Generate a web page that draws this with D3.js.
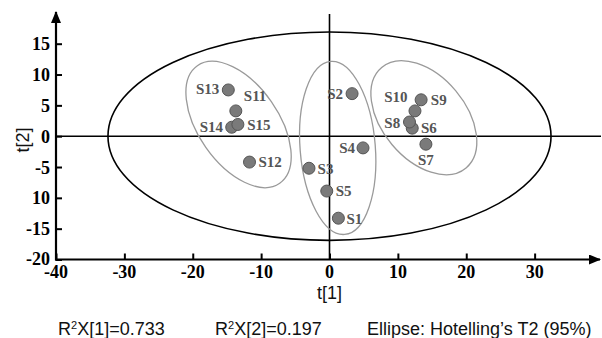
<!DOCTYPE html>
<html>
<head>
<meta charset="utf-8">
<script src="https://cdn.jsdelivr.net/npm/d3@7"></script>
<style>
  body { margin: 0; background: #fff; }
  svg { display: block; }
  .lbl { font-family: "Liberation Serif", "Times New Roman", serif; font-weight: bold; font-size: 15px; fill: #555; }
  .ticklbl { font-family: "Liberation Serif", "Times New Roman", serif; font-weight: bold; font-size: 18px; fill: #000; }
  .sans { font-family: "Liberation Sans", Arial, sans-serif; fill: #111; }
</style>
</head>
<body>
<div id="chart"></div>
<script>
// sample scores t[1], t[2]
const samples = ['S1', 'S2', 'S3', 'S4', 'S5', 'S6', 'S7', 'S8', 'S9', 'S10', 'S11', 'S12', 'S13', 'S14', 'S15'];
const t1 = [1.3, 3.3, -3.0, 4.9, -0.4, 12.1, 14.1, 11.7, 13.4, 12.5, -13.7, -11.7, -14.8, -14.3, -13.4];
const t2 = [-13.3, 6.9, -5.2, -1.9, -8.9, 1.3, -1.3, 2.3, 5.9, 4.1, 4.1, -4.2, 7.5, 1.45, 1.9];

// axis ticks (the -10 label reads "10" in the original)
const xTicks = [-40, -30, -20, -10, 0, 10, 20, 30];
const yTicks = [15, 10, 5, 0, -5, -10, -15, -20];
const yTickLabels = ['15', '10', '5', '0', '-5', '10', '-15', '-20'];

// Hotelling T2 ellipse (95%)
const hotellingRx = 32.4, hotellingRy = 16.9;

// group ellipses: centre (t1, t2), semi-axes in t[1] units, tilt in degrees
const groupCx = [-13.3, 1.2, 13.8];
const groupCy = [1.9, -1.9, 3.0];
const groupA = [10.5, 12.7, 9.6];
const groupB = [5.85, 5.5, 6.1];
const groupAngle = [55, 85.4, 50];

// label placement: dx, dy, anchor
const labelPos = {
    S1: [8, 5.7, 'start'], S2: [-9, 5.7, 'end'], S3: [8.6, 5.7, 'start'],
    S4: [-8, 4.6, 'end'], S5: [9, 5.3, 'start'], S6: [8.7, 5, 'start'],
    S7: [0, 21, 'middle'], S8: [-9.3, 5.6, 'end'], S9: [9.7, 5.3, 'start'],
    S10: [-7.4, -9, 'end'], S11: [8, -9.6, 'start'], S12: [9, 5, 'start'],
    S13: [-9, 4.5, 'end'], S14: [-8.6, 4.7, 'end'], S15: [9.4, 5.4, 'start']
};

const W = 602, H = 338;
const svg = d3.select('#chart').append('svg')
    .attr('width', W).attr('height', H);

const x = d3.scaleLinear().domain([-40, 0]).range([56, 329.5]);
const y = d3.scaleLinear().domain([-20, 15]).range([259.5, 43.7]);

const defs = svg.append('defs');
defs.append('marker')
    .attr('id', 'arrow')
    .attr('viewBox', '0 0 12 10')
    .attr('refX', 11).attr('refY', 5)
    .attr('markerWidth', 12).attr('markerHeight', 10)
    .attr('markerUnits', 'userSpaceOnUse')
    .attr('orient', 'auto')
    .append('path')
    .attr('d', 'M0,0 L12,5 L0,10 Z')
    .attr('fill', '#000');

// zero lines
svg.append('line')
    .attr('x1', x(-40)).attr('x2', 601)
    .attr('y1', y(0)).attr('y2', y(0))
    .attr('stroke', '#000').attr('stroke-width', 1.6);
svg.append('line')
    .attr('x1', x(0)).attr('x2', x(0))
    .attr('y1', 14).attr('y2', y(-20))
    .attr('stroke', '#000').attr('stroke-width', 1.6);

// big ellipse
svg.append('ellipse')
    .attr('cx', x(0)).attr('cy', y(0))
    .attr('rx', x(hotellingRx) - x(0))
    .attr('ry', y(0) - y(hotellingRy))
    .attr('fill', 'none')
    .attr('stroke', '#000').attr('stroke-width', 1.6);

// group ellipses
const unit = x(1) - x(0);
groupCx.forEach((cx, i) => {
    svg.append('ellipse')
        .attr('cx', 0).attr('cy', 0)
        .attr('rx', groupA[i] * unit)
        .attr('ry', groupB[i] * unit)
        .attr('transform', 'translate(' + x(cx) + ',' + y(groupCy[i]) + ') rotate(' + groupAngle[i] + ')')
        .attr('fill', 'none')
        .attr('stroke', '#9a9a9a').attr('stroke-width', 1.3);
});

// axes: tick marks from d3 axes, labels as plain text
const yAxisG = svg.append('g')
    .attr('transform', 'translate(' + x(-40) + ',0)')
    .call(d3.axisLeft(y).tickValues(yTicks).tickFormat('')
        .tickSizeInner(-6).tickSizeOuter(0));
yAxisG.select('.domain').remove();
yAxisG.selectAll('.tick line').attr('stroke', '#000').attr('stroke-width', 2);

const xAxisG = svg.append('g')
    .attr('transform', 'translate(0,' + y(-20) + ')')
    .call(d3.axisBottom(x).tickValues(xTicks).tickFormat('')
        .tickSizeInner(-6).tickSizeOuter(0));
xAxisG.select('.domain').remove();
xAxisG.selectAll('.tick line').attr('stroke', '#000').attr('stroke-width', 2);

svg.append('g').selectAll('text')
    .data(yTicks)
    .enter().append('text')
    .attr('class', 'ticklbl')
    .attr('x', x(-40) - 6)
    .attr('y', d => y(d) + (d === -20 ? 5 : 6.5))
    .attr('text-anchor', 'end')
    .text((d, i) => yTickLabels[i]);

svg.append('g').selectAll('text')
    .data(xTicks)
    .enter().append('text')
    .attr('class', 'ticklbl')
    .attr('x', d => x(d))
    .attr('y', y(-20) + 18.5)
    .attr('text-anchor', 'middle')
    .text(d => d);

svg.append('line')
    .attr('x1', x(-40)).attr('x2', x(-40))
    .attr('y1', y(-20) + 1).attr('y2', 12)
    .attr('stroke', '#000').attr('stroke-width', 2.2)
    .attr('marker-end', 'url(#arrow)');
svg.append('line')
    .attr('x1', x(-40) - 1).attr('x2', 600)
    .attr('y1', y(-20)).attr('y2', y(-20))
    .attr('stroke', '#000').attr('stroke-width', 2.2)
    .attr('marker-end', 'url(#arrow)');

// points
const pts = samples.map((s, i) => ({ name: s, t1: t1[i], t2: t2[i] }));
svg.append('g').selectAll('circle')
    .data(pts)
    .enter().append('circle')
    .attr('cx', d => x(d.t1))
    .attr('cy', d => y(d.t2))
    .attr('r', 6)
    .attr('fill', '#7a7a7a')
    .attr('stroke', '#555').attr('stroke-width', 1);

svg.append('g').selectAll('text')
    .data(pts)
    .enter().append('text')
    .attr('class', 'lbl')
    .attr('x', d => x(d.t1) + labelPos[d.name][0])
    .attr('y', d => y(d.t2) + labelPos[d.name][1])
    .attr('text-anchor', d => labelPos[d.name][2])
    .text(d => d.name);

// axis titles
svg.append('text')
    .attr('class', 'sans')
    .attr('transform', 'translate(29,140) rotate(-90)')
    .attr('text-anchor', 'middle')
    .style('font-size', '18px')
    .text('t[2]');
svg.append('text')
    .attr('class', 'sans')
    .attr('x', x(0)).attr('y', 299)
    .attr('text-anchor', 'middle')
    .style('font-size', '18px')
    .text('t[1]');

// footer
const foot = [
    { x: 58, parts: ['R', '2', 'X[1]=0.733'] },
    { x: 215, parts: ['R', '2', 'X[2]=0.197'] }
];
foot.forEach(f => {
    const t = svg.append('text').attr('class', 'sans')
        .attr('x', f.x).attr('y', 335).style('font-size', '18px');
    t.append('tspan').text(f.parts[0]);
    t.append('tspan').attr('dy', -6).style('font-size', '11px').text(f.parts[1]);
    t.append('tspan').attr('dy', 6).text(f.parts[2]);
});
svg.append('text').attr('class', 'sans')
    .attr('x', 367).attr('y', 335).style('font-size', '18px')
    .text('Ellipse: Hotelling\u2019s T2 (95%)');
</script>
</body>
</html>
